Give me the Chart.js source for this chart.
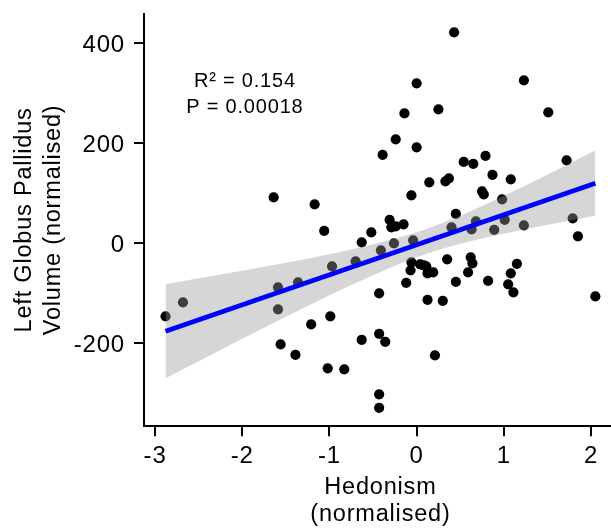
<!DOCTYPE html>
<html>
<head>
<meta charset="utf-8">
<title>Hedonism vs left globus pallidus volume</title>
<script src="https://cdn.jsdelivr.net/npm/chart.js@4.4.1/dist/chart.umd.min.js"></script>
<style>
  html, body { margin: 0; padding: 0; background: #fff; overflow: hidden; }
  #wrap { width: 622px; height: 529px; }
</style>
</head>
<body>
<div id="wrap"><canvas id="scatter" width="622" height="529"></canvas></div>
<script>
// participants: hedonism score and left globus pallidus volume (both normalised)
const hedonism = [
  -2.88, -2.68, -1.64, -1.59, -1.59, -1.56, -1.39, -1.36, -1.21, -1.17,
  -1.06, -1.02, -0.99, -0.97, -0.83, -0.70, -0.63, -0.63, -0.52, -0.43,
  -0.43, -0.43, -0.43, -0.41, -0.39, -0.36, -0.31, -0.29, -0.26, -0.24,
  -0.24, -0.15, -0.14, -0.12, -0.07, -0.06, -0.06, -0.04, 0.00, 0.00,
  0.04, 0.08, 0.11, 0.125, 0.19, 0.125, 0.145, 0.21, 0.25, 0.30,
  0.33, 0.37, 0.35, 0.40, 0.43, 0.45, 0.45, 0.54, 0.59, 0.62,
  0.64, 0.63, 0.65, 0.68, 0.75, 0.77, 0.79, 0.82, 0.87, 0.89,
  0.98, 1.01, 1.05, 1.08, 1.08, 1.11, 1.15, 1.23, 1.23, 1.51,
  1.72, 1.79, 1.85, 2.05
];
const volume = [
  -146, -118, 92, -88, -132, -202, -223, -78, -162, 78,
  25, -250, -146, -46, -252, -36, 2, -193, 22, -100,
  -181, -302, -329, -14, 177, -197, 47, 32, 0, 208,
  34, 38, 260, -79, -54, -38, 96, 6, 320, 192,
  -42, -44, -46, -60, -58, -113, 122, -224, 268, -115,
  124, 130, -32, 32, 422, 59, -77, 163, -58, -28,
  -40, 28, 159, 44, 104, 98, 175, -75, 137, 27,
  88, 47, -82, -60, 128, -98, -41, 326, 36, 262,
  166, 50, 14, -106
];

// linear fit and its confidence band
const fitX = [-2.88, 2.05];
const fitY = [-176, 120];
const bandX = [-2.88, -2.5, -2, -1.5, -1, -0.5, 0, 0.5, 1, 1.5, 2.05];
const bandUpper = [-82, -70, -55, -39, -22, -2, 22, 55, 95, 137, 186];
const bandLower = [-270, -236, -191, -147, -104, -64, -28, -1, 19, 37, 55];

const xTicks = [-3, -2, -1, 0, 1, 2];
const yTicks = [-200, 0, 200, 400];

const statLines = ["R\u00b2 = 0.154", "P = 0.00018"];
const statX = -1.97;
const statY = [313, 261];

const FONT = '"Liberation Sans", Arial, sans-serif';
Chart.defaults.font.family = FONT;
Chart.defaults.color = "#000";

const toXY = (xs, ys) => xs.map((x, i) => ({ x: x, y: ys[i] }));

// slightly wider lettering for all text on the canvas
const spacing = {
  id: "spacing",
  beforeDraw(chart) { chart.ctx.letterSpacing = "0.8px"; }
};

const statsLabel = {
  id: "statsLabel",
  afterDatasetsDraw(chart) {
    const { ctx, scales: { x, y } } = chart;
    ctx.save();
    ctx.font = "20px " + FONT;
    ctx.fillStyle = "#000";
    ctx.textAlign = "center";
    ctx.textBaseline = "alphabetic";
    statLines.forEach((t, i) => {
      ctx.fillText(t, x.getPixelForValue(statX), y.getPixelForValue(statY[i]));
    });
    ctx.restore();
  }
};

const axisLine = { color: "#000", width: 2 };
const tickMarks = { drawOnChartArea: false, drawTicks: true, tickLength: 10, color: "#000", lineWidth: 2 };

new Chart(document.getElementById("scatter"), {
  type: "scatter",
  data: {
    datasets: [
      {
        type: "line",
        data: toXY(fitX, fitY),
        borderColor: "#0000ff",
        borderWidth: 4.8,
        pointRadius: 0,
        fill: false,
        order: 1
      },
      {
        type: "line",
        data: toXY(bandX, bandUpper),
        borderWidth: 0,
        borderColor: "rgba(0,0,0,0)",
        pointRadius: 0,
        cubicInterpolationMode: "monotone",
        fill: "+1",
        backgroundColor: "rgba(153,153,153,0.4)",
        order: 2
      },
      {
        type: "line",
        data: toXY(bandX, bandLower),
        borderWidth: 0,
        borderColor: "rgba(0,0,0,0)",
        pointRadius: 0,
        cubicInterpolationMode: "monotone",
        fill: false,
        order: 2
      },
      {
        type: "scatter",
        data: toXY(hedonism, volume),
        backgroundColor: "#000",
        borderWidth: 0,
        pointRadius: 5.1,
        order: 3
      }
    ]
  },
  options: {
    responsive: false,
    animation: false,
    layout: { padding: { top: 13.5, right: 2.3, left: 0, bottom: 0 } },
    plugins: { legend: { display: false }, tooltip: { enabled: false } },
    scales: {
      x: {
        type: "linear",
        min: -3.127,
        max: 2.297,
        afterBuildTicks: s => { s.ticks = xTicks.map(v => ({ value: v })); },
        afterFit: s => { s.height = 102.7; s.paddingLeft = 0; s.paddingRight = 0; },
        grid: tickMarks,
        border: axisLine,
        ticks: { font: { size: 24 }, padding: 5.5, maxRotation: 0, autoSkip: false },
        title: {
          display: true,
          text: ["Hedonism", "(normalised)"],
          font: { size: 23.5, lineHeight: 1.175 },
          padding: { top: 0, bottom: 0.4 }
        }
      },
      y: {
        type: "linear",
        min: -366,
        max: 459.6,
        afterBuildTicks: s => { s.ticks = yTicks.map(v => ({ value: v })); },
        afterFit: s => { s.width = 144; s.paddingTop = 0; s.paddingBottom = 0; },
        grid: tickMarks,
        border: axisLine,
        ticks: { font: { size: 24 }, padding: 9, labelOffset: 2.4 },
        title: {
          display: true,
          text: ["Left Globus Pallidus", "Volume (normalised)"],
          font: { size: 23.5, lineHeight: 1.217 },
          padding: { top: 10.7, bottom: 0 }
        }
      }
    }
  },
  plugins: [spacing, statsLabel]
});
</script>
</body>
</html>
